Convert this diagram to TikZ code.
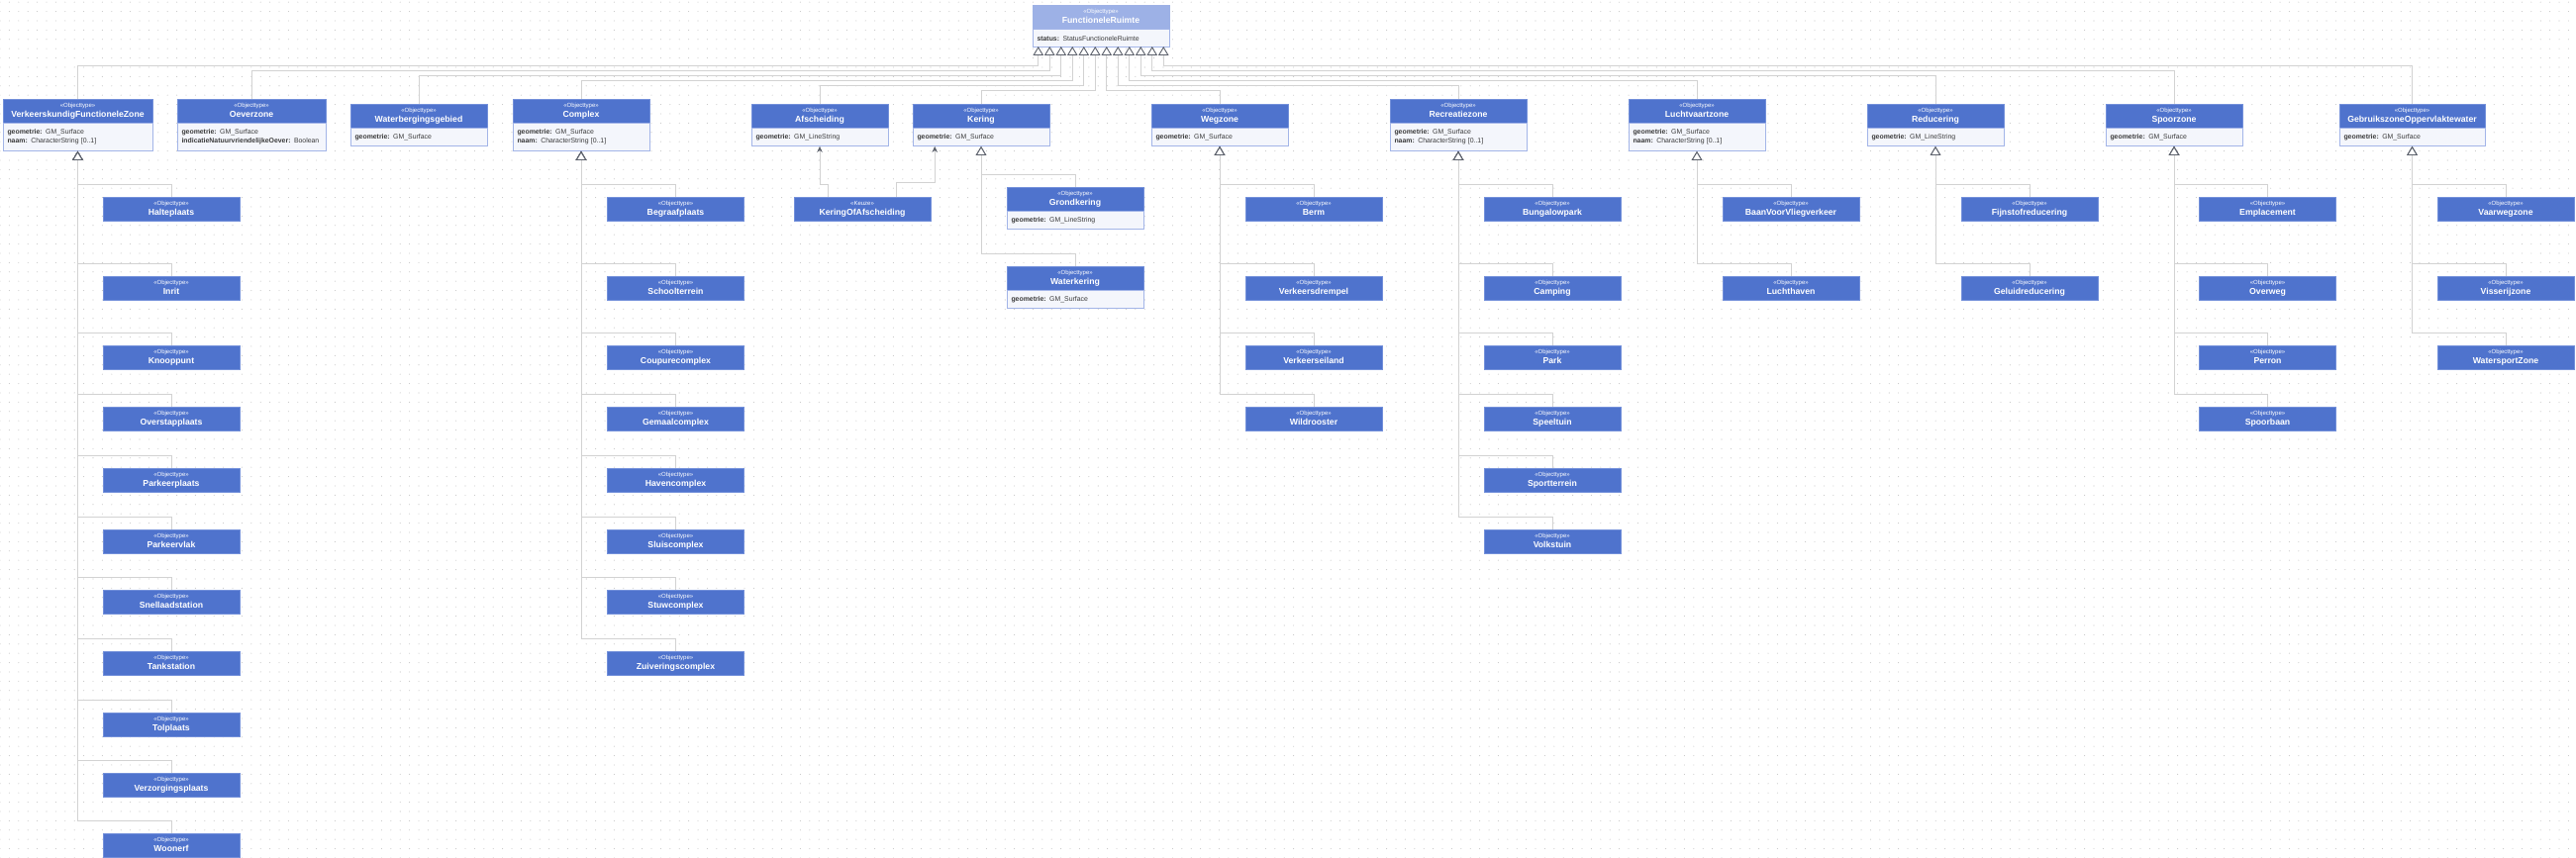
\documentclass[tikz,border=0pt]{standalone}
\usepackage{fontspec}
\setmainfont{Liberation Sans}
\usetikzlibrary{arrows.meta, positioning, patterns.meta}

\definecolor{hdrblue}{HTML}{4F73CD}
\definecolor{hdrline}{HTML}{7390DA}
\definecolor{hdrpale}{HTML}{9DB1E6}
\definecolor{attrfill}{HTML}{F4F6FC}
\definecolor{attrline}{HTML}{A3B5E8}
\definecolor{attrtext}{HTML}{3A3A3A}
\definecolor{conn}{HTML}{D2D2D2}
\definecolor{tipgray}{HTML}{5B606B}

\newcommand{\hd}[2]{{\fontsize{6}{6}\selectfont\mdseries\rule{0pt}{4.6pt}«#1»}\\[0.9pt]\rule[-2pt]{0pt}{8.5pt}#2}
\newcommand{\fld}[2]{\mbox{\textbf{#1:} #2}}

\begin{document}
\begin{tikzpicture}[x=1pt,y=-1pt,
    hdr/.style={draw=hdrline, fill=hdrblue, text=white, line width=0.6pt, inner sep=0pt,
        minimum width=138pt, minimum height=24pt, align=center, font=\fontsize{8.7}{9.6}\selectfont\bfseries},
    attr/.style={draw=attrline, fill=attrfill, text=attrtext, line width=0.6pt, inner xsep=4.5pt,
        inner ysep=0pt, text width=129pt, minimum height=18pt, align=left, font=\fontsize{6.9}{9}\selectfont},
    gen/.style={draw=conn, line width=0.8pt,
        -{Triangle[open, length=9pt, width=10.5pt, line width=0.9pt, color=tipgray, fill=white]}},
    sub/.style={gen, to path={(\tikztostart.north) -- ++(0,-12) -| (\tikztotarget.south)}},
    assoc/.style={draw=conn, line width=0.8pt, -{Stealth[length=6pt, width=5.5pt, color=tipgray]}}]

    \useasboundingbox (0,0) rectangle (2602,867);
    \fill[white] (0,0) rectangle (2602,867);
    \fill[pattern={Dots[radius=0.55pt, distance=9.4pt]}, pattern color=black!22] (0,0) rectangle (2602,867);

    % bovenste klasse
    \node[hdr, fill=hdrpale, draw=hdrpale] (fr) at (1112,17) {\hd{Objecttype}{FunctioneleRuimte}};
    \node[attr, below=0pt of fr] (fr-a) {\fld{status}{StatusFunctioneleRuimte}};

    % eerste laag
    \node[hdr, minimum width=151pt] (vfz) at (78.5,112) {\hd{Objecttype}{VerkeerskundigFunctioneleZone}};
    \node[attr, text width=142pt, minimum height=28pt, below=0pt of vfz] (vfz-a) {\fld{geometrie}{GM\_Surface}\\\fld{naam}{CharacterString [0..1]}};
    \node[hdr, minimum width=150pt] (oev) at (254,112) {\hd{Objecttype}{Oeverzone}};
    \node[attr, text width=141pt, minimum height=28pt, below=0pt of oev] (oev-a) {\fld{geometrie}{GM\_Surface}\\\fld{indicatieNatuurvriendelijkeOever}{Boolean}};
    \node[hdr] (wbg) at (423,117) {\hd{Objecttype}{Waterbergingsgebied}};
    \node[attr, below=0pt of wbg] (wbg-a) {\fld{geometrie}{GM\_Surface}};
    \node[hdr] (cpx) at (587,112) {\hd{Objecttype}{Complex}};
    \node[attr, minimum height=28pt, below=0pt of cpx] (cpx-a) {\fld{geometrie}{GM\_Surface}\\\fld{naam}{CharacterString [0..1]}};
    \node[hdr] (afs) at (828,117) {\hd{Objecttype}{Afscheiding}};
    \node[attr, below=0pt of afs] (afs-a) {\fld{geometrie}{GM\_LineString}};
    \node[hdr] (ker) at (991,117) {\hd{Objecttype}{Kering}};
    \node[attr, below=0pt of ker] (ker-a) {\fld{geometrie}{GM\_Surface}};
    \node[hdr] (weg) at (1232,117) {\hd{Objecttype}{Wegzone}};
    \node[attr, below=0pt of weg] (weg-a) {\fld{geometrie}{GM\_Surface}};
    \node[hdr] (rec) at (1473,112) {\hd{Objecttype}{Recreatiezone}};
    \node[attr, minimum height=28pt, below=0pt of rec] (rec-a) {\fld{geometrie}{GM\_Surface}\\\fld{naam}{CharacterString [0..1]}};
    \node[hdr] (lvz) at (1714,112) {\hd{Objecttype}{Luchtvaartzone}};
    \node[attr, minimum height=28pt, below=0pt of lvz] (lvz-a) {\fld{geometrie}{GM\_Surface}\\\fld{naam}{CharacterString [0..1]}};
    \node[hdr] (red) at (1955,117) {\hd{Objecttype}{Reducering}};
    \node[attr, below=0pt of red] (red-a) {\fld{geometrie}{GM\_LineString}};
    \node[hdr] (spz) at (2196,117) {\hd{Objecttype}{Spoorzone}};
    \node[attr, below=0pt of spz] (spz-a) {\fld{geometrie}{GM\_Surface}};
    \node[hdr, minimum width=147pt] (gzo) at (2436.5,117) {\hd{Objecttype}{GebruikszoneOppervlaktewater}};
    \node[attr, text width=138pt, below=0pt of gzo] (gzo-a) {\fld{geometrie}{GM\_Surface}};

    % verkeerskundig
    \node[hdr] (halte) at (173,211) {\hd{Objecttype}{Halteplaats}};
    \node[hdr] (inrit) at (173,291) {\hd{Objecttype}{Inrit}};
    \node[hdr] (knoop) at (173,361) {\hd{Objecttype}{Knooppunt}};
    \node[hdr] (overstap) at (173,423) {\hd{Objecttype}{Overstapplaats}};
    \node[hdr] (pplaats) at (173,485) {\hd{Objecttype}{Parkeerplaats}};
    \node[hdr] (pvlak) at (173,547) {\hd{Objecttype}{Parkeervlak}};
    \node[hdr] (snellaad) at (173,608) {\hd{Objecttype}{Snellaadstation}};
    \node[hdr] (tank) at (173,670) {\hd{Objecttype}{Tankstation}};
    \node[hdr] (tol) at (173,732) {\hd{Objecttype}{Tolplaats}};
    \node[hdr] (verzorg) at (173,793) {\hd{Objecttype}{Verzorgingsplaats}};
    \node[hdr] (woonerf) at (173,854) {\hd{Objecttype}{Woonerf}};

    % complexen
    \node[hdr] (begraaf) at (682.5,211) {\hd{Objecttype}{Begraafplaats}};
    \node[hdr] (school) at (682.5,291) {\hd{Objecttype}{Schoolterrein}};
    \node[hdr] (coupure) at (682.5,361) {\hd{Objecttype}{Coupurecomplex}};
    \node[hdr] (gemaal) at (682.5,423) {\hd{Objecttype}{Gemaalcomplex}};
    \node[hdr] (haven) at (682.5,485) {\hd{Objecttype}{Havencomplex}};
    \node[hdr] (sluis) at (682.5,547) {\hd{Objecttype}{Sluiscomplex}};
    \node[hdr] (stuw) at (682.5,608) {\hd{Objecttype}{Stuwcomplex}};
    \node[hdr] (zuiver) at (682.5,670) {\hd{Objecttype}{Zuiveringscomplex}};

    % keringen
    \node[hdr] (koa) at (871,211) {\hd{Keuze}{KeringOfAfscheiding}};
    \node[hdr] (grond) at (1086,201) {\hd{Objecttype}{Grondkering}};
    \node[attr, below=0pt of grond] (grond-a) {\fld{geometrie}{GM\_LineString}};
    \node[hdr] (water) at (1086,281) {\hd{Objecttype}{Waterkering}};
    \node[attr, below=0pt of water] (water-a) {\fld{geometrie}{GM\_Surface}};

    % wegzone
    \node[hdr] (berm) at (1327,211) {\hd{Objecttype}{Berm}};
    \node[hdr] (drempel) at (1327,291) {\hd{Objecttype}{Verkeersdrempel}};
    \node[hdr] (eiland) at (1327,361) {\hd{Objecttype}{Verkeerseiland}};
    \node[hdr] (wild) at (1327,423) {\hd{Objecttype}{Wildrooster}};

    % recreatie
    \node[hdr] (bungalow) at (1568,211) {\hd{Objecttype}{Bungalowpark}};
    \node[hdr] (camping) at (1568,291) {\hd{Objecttype}{Camping}};
    \node[hdr] (park) at (1568,361) {\hd{Objecttype}{Park}};
    \node[hdr] (speeltuin) at (1568,423) {\hd{Objecttype}{Speeltuin}};
    \node[hdr] (sport) at (1568,485) {\hd{Objecttype}{Sportterrein}};
    \node[hdr] (volkstuin) at (1568,547) {\hd{Objecttype}{Volkstuin}};

    % luchtvaart, reducering
    \node[hdr] (baan) at (1809,211) {\hd{Objecttype}{BaanVoorVliegverkeer}};
    \node[hdr] (lucht) at (1809,291) {\hd{Objecttype}{Luchthaven}};
    \node[hdr] (fijnstof) at (2050,211) {\hd{Objecttype}{Fijnstofreducering}};
    \node[hdr] (geluid) at (2050,291) {\hd{Objecttype}{Geluidreducering}};

    % spoor, water
    \node[hdr] (empl) at (2290.5,211) {\hd{Objecttype}{Emplacement}};
    \node[hdr] (overweg) at (2290.5,291) {\hd{Objecttype}{Overweg}};
    \node[hdr] (perron) at (2290.5,361) {\hd{Objecttype}{Perron}};
    \node[hdr] (spoorbaan) at (2290.5,423) {\hd{Objecttype}{Spoorbaan}};
    \node[hdr] (vaarweg) at (2531,211) {\hd{Objecttype}{Vaarwegzone}};
    \node[hdr] (visserij) at (2531,291) {\hd{Objecttype}{Visserijzone}};
    \node[hdr] (watersport) at (2531,361) {\hd{Objecttype}{WatersportZone}};

    % aansluitpunten onder FunctioneleRuimte
    \coordinate (t1) at (1048.75,47);   \coordinate (t2) at (1060.25,47);
    \coordinate (t3) at (1071.75,47);   \coordinate (t4) at (1083.25,47);
    \coordinate (t5) at (1094.75,47);   \coordinate (t6) at (1106.25,47);
    \coordinate (t7) at (1117.75,47);   \coordinate (t8) at (1129.25,47);
    \coordinate (t9) at (1140.75,47);   \coordinate (t10) at (1152.25,47);
    \coordinate (t11) at (1163.75,47);  \coordinate (t12) at (1175.25,47);

    \draw[gen] (vfz.north) -- ++(0,-33) -| (t1);
    \draw[gen] (oev.north) -- ++(0,-28) -| (t2);
    \draw[gen] (wbg.north) -- ++(0,-28) -| (t3);
    \draw[gen] (cpx.north) -- ++(0,-18) -| (t4);
    \draw[gen] (afs.north) -- ++(0,-18) -| (t5);
    \draw[gen] (ker.north) -- ++(0,-13) -| (t6);
    \draw[gen] (weg.north) -- ++(0,-13) -| (t7);
    \draw[gen] (rec.north) -- ++(0,-13) -| (t8);
    \draw[gen] (lvz.north) -- ++(0,-18) -| (t9);
    \draw[gen] (red.north) -- ++(0,-28) -| (t10);
    \draw[gen] (spz.north) -- ++(0,-33) -| (t11);
    \draw[gen] (gzo.north) -- ++(0,-38) -| (t12);

    \path[sub] (halte) edge (vfz-a) (inrit) edge (vfz-a) (knoop) edge (vfz-a)
        (overstap) edge (vfz-a) (pplaats) edge (vfz-a) (pvlak) edge (vfz-a)
        (snellaad) edge (vfz-a) (tank) edge (vfz-a) (tol) edge (vfz-a)
        (verzorg) edge (vfz-a) (woonerf) edge (vfz-a);
    \path[sub] (begraaf) edge (cpx-a) (school) edge (cpx-a) (coupure) edge (cpx-a)
        (gemaal) edge (cpx-a) (haven) edge (cpx-a) (sluis) edge (cpx-a)
        (stuw) edge (cpx-a) (zuiver) edge (cpx-a);
    \path[sub] (grond) edge (ker-a) (water) edge (ker-a);
    \path[sub] (berm) edge (weg-a) (drempel) edge (weg-a) (eiland) edge (weg-a) (wild) edge (weg-a);
    \path[sub] (bungalow) edge (rec-a) (camping) edge (rec-a) (park) edge (rec-a)
        (speeltuin) edge (rec-a) (sport) edge (rec-a) (volkstuin) edge (rec-a);
    \path[sub] (baan) edge (lvz-a) (lucht) edge (lvz-a);
    \path[sub] (fijnstof) edge (red-a) (geluid) edge (red-a);
    \path[sub] (empl) edge (spz-a) (overweg) edge (spz-a) (perron) edge (spz-a) (spoorbaan) edge (spz-a);
    \path[sub] (vaarweg) edge (gzo-a) (visserij) edge (gzo-a) (watersport) edge (gzo-a);

    \draw[assoc] ([xshift=34.5pt]koa.north west) -- ++(0,-12) -| (afs-a.south);
    \draw[assoc] ([xshift=-34.5pt]koa.north east) -- ++(0,-14) -| ([xshift=22.5pt]ker-a.south west);
\end{tikzpicture}
\end{document}
